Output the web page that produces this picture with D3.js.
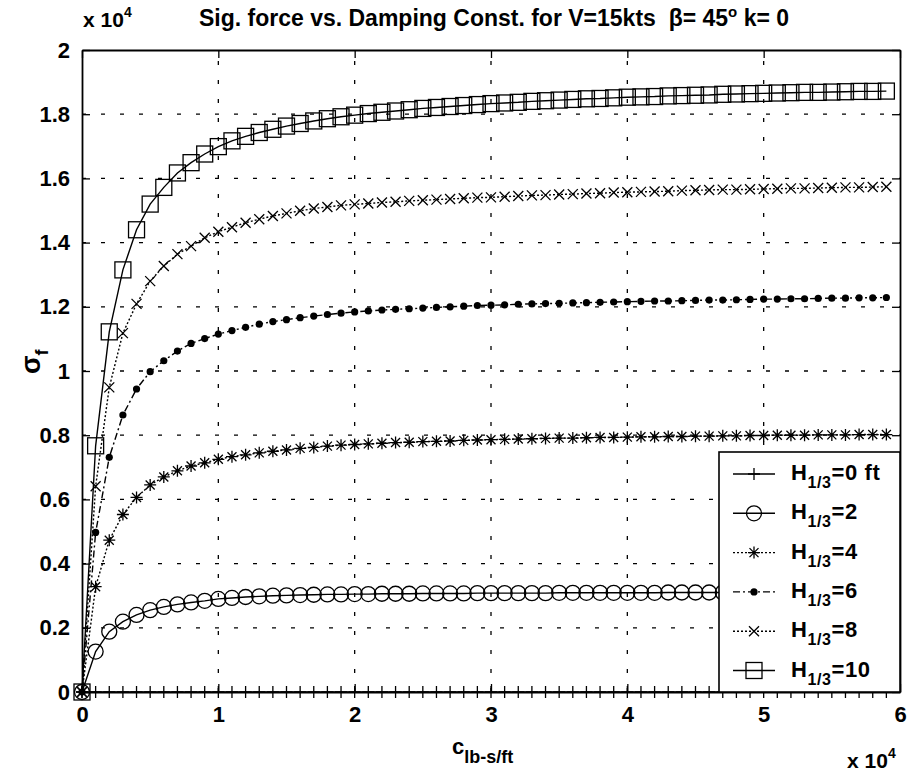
<!DOCTYPE html>
<html><head><meta charset="utf-8">
<script src="https://cdn.jsdelivr.net/npm/d3@7/dist/d3.min.js"></script>
<style>body{margin:0;background:#fff}svg{display:block}text{font-family:"Liberation Sans",Arial,sans-serif;fill:#000;font-weight:bold;white-space:pre}</style>
</head><body>
<svg id="chart" width="907" height="774"></svg>
<script>
// damping constant, in units of 1e4 lb-s/ft
const dampingX = d3.range(60).map(i => i / 10);
const xTicks = [0, 1, 2, 3, 4, 5, 6];
const yTicks = [0, 0.2, 0.4, 0.6, 0.8, 1, 1.2, 1.4, 1.6, 1.8, 2];

const H0 = [0,0,0,0,0,0,0,0,0,0, 0,0,0,0,0,0,0,0,0,0, 0,0,0,0,0,0,0,0,0,0, 0,0,0,0,0,0,0,0,0,0, 0,0,0,0,0,0,0,0,0,0, 0,0,0,0,0,0,0,0,0,0];
const H2 = [0,0.126,0.188,0.219,0.240,0.255,0.265,0.273,0.279,0.284,
            0.290,0.293,0.296,0.298,0.300,0.301,0.302,0.303,0.304,0.304,
            0.305,0.305,0.306,0.306,0.306,0.307,0.307,0.307,0.307,0.308,
            0.308,0.308,0.308,0.308,0.308,0.309,0.309,0.309,0.309,0.309,
            0.309,0.309,0.309,0.310,0.310,0.310,0.310,0.310,0.310,0.310,
            0.310,0.310,0.310,0.311,0.311,0.311,0.311,0.311,0.311,0.311];
const H4 = [0,0.328,0.473,0.553,0.606,0.645,0.670,0.689,0.704,0.714,
            0.725,0.733,0.739,0.745,0.750,0.754,0.759,0.762,0.766,0.769,
            0.771,0.773,0.775,0.777,0.778,0.780,0.781,0.782,0.784,0.785,
            0.786,0.787,0.788,0.789,0.790,0.791,0.791,0.792,0.793,0.793,
            0.794,0.795,0.795,0.796,0.796,0.797,0.797,0.798,0.798,0.799,
            0.799,0.800,0.800,0.800,0.801,0.801,0.801,0.802,0.802,0.802];
const H6 = [0,0.497,0.731,0.863,0.944,0.998,1.032,1.062,1.086,1.101,
            1.115,1.126,1.136,1.146,1.154,1.160,1.166,1.171,1.176,1.180,
            1.184,1.187,1.190,1.192,1.194,1.196,1.198,1.200,1.202,1.204,
            1.205,1.206,1.208,1.209,1.210,1.211,1.212,1.213,1.214,1.215,
            1.216,1.217,1.218,1.218,1.219,1.220,1.221,1.221,1.222,1.223,
            1.224,1.224,1.225,1.225,1.226,1.227,1.227,1.228,1.228,1.229];
const H8 = [0,0.641,0.949,1.118,1.209,1.280,1.327,1.364,1.389,1.415,
            1.434,1.448,1.462,1.473,1.483,1.491,1.499,1.506,1.511,1.516,
            1.519,1.522,1.525,1.527,1.530,1.532,1.534,1.536,1.538,1.540,
            1.541,1.543,1.545,1.547,1.548,1.550,1.551,1.553,1.554,1.556,
            1.557,1.558,1.559,1.560,1.562,1.563,1.564,1.565,1.565,1.566,
            1.567,1.568,1.569,1.569,1.570,1.571,1.572,1.572,1.573,1.574];
const H10 = [0,0.767,1.122,1.315,1.440,1.520,1.572,1.617,1.649,1.676,
             1.699,1.717,1.731,1.743,1.753,1.763,1.771,1.779,1.786,1.792,
             1.797,1.802,1.806,1.810,1.814,1.818,1.821,1.824,1.827,1.830,
             1.833,1.835,1.837,1.840,1.842,1.844,1.846,1.848,1.849,1.851,
             1.853,1.854,1.855,1.857,1.858,1.859,1.860,1.862,1.863,1.864,
             1.865,1.866,1.867,1.868,1.868,1.869,1.870,1.871,1.871,1.872];

const seriesNames = ["0 ft", "2", "4", "6", "8", "10"];
const seriesValues = [H0, H2, H4, H6, H8, H10];
const seriesMarkers = ["plus", "circle", "star", "dot", "cross", "square"];
const seriesDash = [null, null, "2,2", "7,3,2,3", "2,2", null];

const svg = d3.select("#chart");
const L = 82, R = 900, T = 50, B = 692;
const x = d3.scaleLinear().domain([0, 6]).range([L, R]);
const y = d3.scaleLinear().domain([0, 2]).range([B, T]);

// grid
const grid = svg.append("g").attr("stroke", "#000").attr("stroke-width", 1.3).attr("stroke-dasharray", "4,15");
grid.selectAll(".gx").data(xTicks.slice(1, -1)).join("line")
  .attr("x1", d => x(d)).attr("x2", d => x(d)).attr("y1", B).attr("y2", T);
grid.selectAll(".gy").data(yTicks.slice(1, -1)).join("line")
  .attr("y1", d => y(d)).attr("y2", d => y(d)).attr("x1", L).attr("x2", R);

// axes
const fmt = d => d3.format("~g")(d);
const axB = svg.append("g").attr("transform", `translate(0,${B})`)
  .call(d3.axisBottom(x).tickValues(xTicks).tickSizeInner(-8).tickSizeOuter(0).tickPadding(14).tickFormat(fmt));
const axT = svg.append("g").attr("transform", `translate(0,${T})`)
  .call(d3.axisTop(x).tickValues(xTicks).tickSizeInner(-8).tickSizeOuter(0).tickFormat(""));
const axL = svg.append("g").attr("transform", `translate(${L},0)`)
  .call(d3.axisLeft(y).tickValues(yTicks).tickSizeInner(-8).tickSizeOuter(0).tickPadding(12).tickFormat(fmt));
const axR = svg.append("g").attr("transform", `translate(${R},0)`)
  .call(d3.axisRight(y).tickValues(yTicks).tickSizeInner(-8).tickSizeOuter(0).tickFormat(""));
[axB, axT, axL, axR].forEach(a => {
  a.select(".domain").attr("stroke", "#000").attr("stroke-width", 1.8);
  a.selectAll(".tick line").attr("stroke", "#000").attr("stroke-width", 1.3);
  a.selectAll(".tick text").attr("font-size", 22).attr("font-weight", "bold")
    .attr("font-family", '"Liberation Sans",Arial,sans-serif').attr("fill", "#000");
});

// marker drawer
function drawMarker(g, type, cx, cy) {
  const s = g.append("g").attr("transform", `translate(${cx},${cy})`).attr("stroke", "#000").attr("fill", "none").attr("stroke-width", 1.3);
  if (type === "plus") {
    s.append("path").attr("d", "M-6,0H6M0,-6V6");
  } else if (type === "circle") {
    s.append("circle").attr("r", 7.5);
  } else if (type === "star") {
    s.append("path").attr("d", "M-6,0H6M0,-6V6M-4.5,-4.5L4.5,4.5M-4.5,4.5L4.5,-4.5");
  } else if (type === "dot") {
    s.append("circle").attr("r", 3.6).attr("fill", "#000").attr("stroke", "none");
  } else if (type === "cross") {
    s.append("path").attr("d", "M-5,-5L5,5M-5,5L5,-5");
  } else if (type === "square") {
    s.append("rect").attr("x", -8).attr("y", -8).attr("width", 16).attr("height", 16);
  }
}

const line = d3.line().x((d, i) => x(dampingX[i])).y(d => y(d));
seriesValues.forEach((vals, k) => {
  const g = svg.append("g");
  g.append("path").datum(vals).attr("d", line).attr("fill", "none").attr("stroke", "#000")
    .attr("stroke-width", 1.4).attr("stroke-dasharray", seriesDash[k]);
  vals.forEach((v, i) => drawMarker(g, seriesMarkers[k], x(dampingX[i]), y(v)));
});

// legend
const lg = svg.append("g");
lg.append("rect").attr("x", 719).attr("y", 452).attr("width", R - 719).attr("height", B - 452)
  .attr("fill", "#fff").attr("stroke", "#000").attr("stroke-width", 1.6);
seriesNames.forEach((name, k) => {
  const cy = 474 + k * 39.3;
  lg.append("line").attr("x1", 733).attr("x2", 775).attr("y1", cy).attr("y2", cy)
    .attr("stroke", "#000").attr("stroke-width", 1.4).attr("stroke-dasharray", seriesDash[k]);
  drawMarker(lg, seriesMarkers[k], 754, cy);
  const t = lg.append("text").attr("x", 791).attr("y", cy + 6).attr("font-size", 22).attr("letter-spacing", 0.6);
  t.append("tspan").text("H");
  t.append("tspan").attr("font-size", 16).attr("dy", 8).text("1/3");
  t.append("tspan").attr("dy", -8).text("=" + name);
});

// title
const title = svg.append("text").attr("x", 494).attr("y", 26).attr("text-anchor", "middle").attr("font-size", 23);
title.append("tspan").text("Sig. force vs. Damping Const. for V=15kts  \u03B2= 45");
title.append("tspan").attr("font-size", 15).attr("dy", -9).text("o");
title.append("tspan").attr("dy", 9).text(" k= 0");

// exponent labels
const e1 = svg.append("text").attr("x", 83).attr("y", 27).attr("font-size", 21);
e1.append("tspan").text("x 10");
e1.append("tspan").attr("font-size", 14).attr("dy", -10).text("4");
const e2 = svg.append("text").attr("x", 847).attr("y", 768).attr("font-size", 21);
e2.append("tspan").text("x 10");
e2.append("tspan").attr("font-size", 14).attr("dy", -10).text("4");

// axis labels
const xl = svg.append("text").attr("x", 452).attr("y", 754).attr("font-size", 22);
xl.append("tspan").text("c");
xl.append("tspan").attr("font-size", 18).attr("dy", 9).text("lb-s/ft");
const yl = svg.append("text").attr("transform", "translate(40,374) rotate(-90)").attr("font-size", 27);
yl.append("tspan").text("\u03C3");
yl.append("tspan").attr("font-size", 18).attr("dy", 8).text("f");
</script>
</body></html>
